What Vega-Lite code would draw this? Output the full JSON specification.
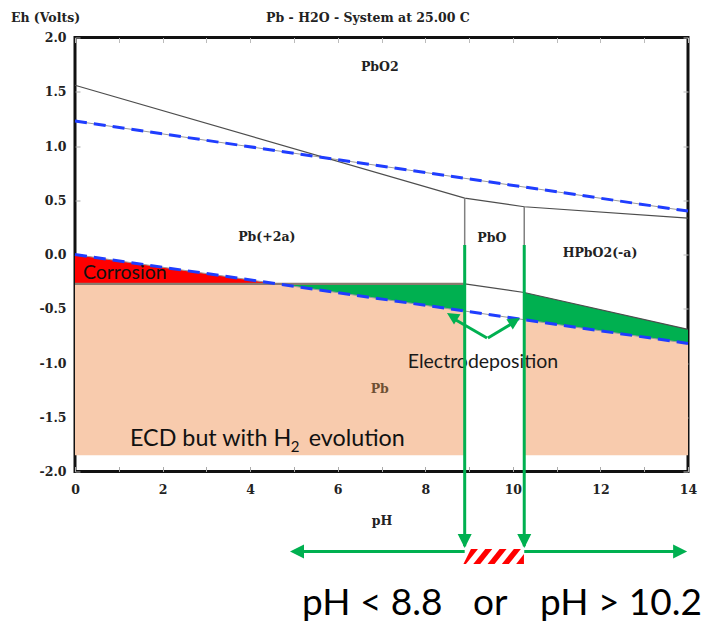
{
  "$schema": "https://vega.github.io/schema/vega-lite/v6.json",
  "width": 613,
  "height": 434,
  "autosize": "none",
  "padding": {"left": 75, "top": 37.5, "right": 24, "bottom": 155.5},
  "background": "white",
  "config": {"view": {"stroke": "#111", "strokeWidth": 3}, "axis": {"grid": false, "domain": false}},
  "datasets": {
    "regions": [
      {"reg": "pinkL", "pH": 0, "top": -0.27, "bot": -1.85},
      {"reg": "pinkL", "pH": 4.61, "top": -0.27, "bot": -1.85},
      {"reg": "pinkL", "pH": 8.9, "top": -0.522, "bot": -1.85},
      {"reg": "pinkR", "pH": 10.26, "top": -0.601, "bot": -1.85},
      {"reg": "pinkR", "pH": 14, "top": -0.82, "bot": -1.85},
      {"reg": "red", "pH": 0, "top": 0.0, "bot": -0.27},
      {"reg": "red", "pH": 4.61, "top": -0.27, "bot": -0.27},
      {"reg": "greenL", "pH": 4.61, "top": -0.27, "bot": -0.27},
      {"reg": "greenL", "pH": 8.9, "top": -0.27, "bot": -0.522},
      {"reg": "greenR", "pH": 10.26, "top": -0.35, "bot": -0.601},
      {"reg": "greenR", "pH": 14, "top": -0.69, "bot": -0.82}
    ],
    "bounds": [
      {"id": "upper", "pH": 0, "Eh": 1.56},
      {"id": "upper", "pH": 8.9, "Eh": 0.52},
      {"id": "upper", "pH": 10.26, "Eh": 0.44},
      {"id": "upper", "pH": 14, "Eh": 0.335},
      {"id": "lowerB", "pH": 8.9, "Eh": -0.27},
      {"id": "lowerB", "pH": 10.26, "Eh": -0.35},
      {"id": "lowerB", "pH": 14, "Eh": -0.69}
    ],
    "bound0": [
      {"id": "lowerA", "pH": 0, "Eh": -0.27},
      {"id": "lowerA", "pH": 8.9, "Eh": -0.27}
    ],
    "water": [
      {"id": "w1", "pH": 0, "Eh": 1.23},
      {"id": "w1", "pH": 14, "Eh": 0.40},
      {"id": "w2", "pH": 0, "Eh": 0.0},
      {"id": "w2", "pH": 14, "Eh": -0.82}
    ],
    "vlines": [
      {"pH": 8.9, "lo": -0.27, "hi": 0.52},
      {"pH": 10.26, "lo": -0.35, "hi": 0.44}
    ],
    "garrows": [
      {"pH": 8.9, "Eh": 0.087, "pH2": 8.9, "Eh2": -2.69},
      {"pH": 10.26, "Eh": 0.087, "pH2": 10.26, "Eh2": -2.69},
      {"pH": 8.9, "Eh": -2.737, "pH2": 5.05, "Eh2": -2.737},
      {"pH": 10.26, "Eh": -2.737, "pH2": 13.83, "Eh2": -2.737},
      {"pH": 9.41, "Eh": -0.77, "pH2": 8.62, "Eh2": -0.585},
      {"pH": 9.43, "Eh": -0.77, "pH2": 10.05, "Eh2": -0.62}
    ],
    "heads": [
      {"dir": "down", "pH": 8.9, "Eh": -2.705},
      {"dir": "down", "pH": 10.26, "Eh": -2.705},
      {"dir": "left", "pH": 4.91, "Eh": -2.737},
      {"dir": "right", "pH": 13.98, "Eh": -2.737},
      {"dir": "upleft", "pH": 8.495, "Eh": -0.539},
      {"dir": "upright", "pH": 10.16, "Eh": -0.585}
    ],
    "hatch": [
      {"s": 0, "Eh": -2.853, "a": 8.872, "b": 8.929},
      {"s": 0, "Eh": -2.714, "a": 9.043, "b": 9.203},
      {"s": 1, "Eh": -2.853, "a": 9.096, "b": 9.256},
      {"s": 1, "Eh": -2.714, "a": 9.370, "b": 9.530},
      {"s": 2, "Eh": -2.853, "a": 9.422, "b": 9.582},
      {"s": 2, "Eh": -2.714, "a": 9.696, "b": 9.856},
      {"s": 3, "Eh": -2.853, "a": 9.749, "b": 9.909},
      {"s": 3, "Eh": -2.714, "a": 10.023, "b": 10.183},
      {"s": 4, "Eh": -2.853, "a": 10.075, "b": 10.253},
      {"s": 4, "Eh": -2.760, "a": 10.253, "b": 10.253}
    ],
    "ttl": [{"t": "Pb - H2O - System at 25.00 C", "pH": 6.69, "Eh": 2.147}],
    "serif": [
      {"t": "PbO2", "pH": 6.96, "Eh": 1.69},
      {"t": "Pb(+2a)", "pH": 4.38, "Eh": 0.124},
      {"t": "PbO", "pH": 9.52, "Eh": 0.115},
      {"t": "HPbO2(-a)", "pH": 11.99, "Eh": -0.023}
    ],
    "pb": [{"t": "Pb", "pH": 6.96, "Eh": -1.276}],
    "corr": [{"t": "Corrosion", "pH": 0.18, "Eh": -0.226}],
    "elec": [{"t": "Electrodeposition", "pH": 7.6, "Eh": -1.046}],
    "ecd": [
      {"t": "ECD but with H", "pH": 1.256, "Eh": -1.765},
      {"t": "evolution", "pH": 5.34, "Eh": -1.765}
    ],
    "sub": [{"t": "2", "pH": 4.93, "Eh": -1.82}],
    "big": [
      {"t": "pH < 8.8", "pH": 5.184, "Eh": -3.323},
      {"t": "or", "pH": 9.089, "Eh": -3.323},
      {"t": "pH > 10.2", "pH": 10.619, "Eh": -3.323}
    ]
  },
  "resolve": {"axis": {"x": "independent", "y": "independent"}},
  "layer": [
    {
      "data": {"name": "regions"},
      "mark": {"type": "area", "opacity": 1, "interpolate": "linear"},
      "encoding": {
        "x": {"field": "pH", "type": "quantitative", "scale": {"domain": [0, 14], "nice": false, "zero": false},
          "axis": {"orient": "bottom", "values": [0,1,2,3,4,5,6,7,8,9,10,11,12,13,14], "labelExpr": "datum.value % 2 === 0 ? datum.label : ''", "tickSize": -5, "tickColor": "#aaa", "labelFont": "DejaVu Serif", "labelFontWeight": "bold", "labelFontSize": 12.5, "labelColor": "#222", "labelPadding": 16.5, "labelFlush": false, "labelOverlap": false, "title": "pH", "titleFont": "DejaVu Serif", "titleFontWeight": "bold", "titleFontSize": 12.5, "titleColor": "#222", "titlePadding": 18.5}},
        "y": {"field": "top", "type": "quantitative", "scale": {"domain": [-2, 2], "nice": false, "zero": false},
          "axis": {"orient": "left", "values": [-2,-1.5,-1,-0.5,0,0.5,1,1.5,2], "labelExpr": "replace(format(datum.value, '.1f'), '\u2212', '-')", "tickSize": -5, "tickColor": "#aaa", "labelFont": "DejaVu Serif", "labelFontWeight": "bold", "labelFontSize": 12.5, "labelColor": "#222", "labelPadding": 14, "labelFlush": false, "labelOverlap": false, "title": "Eh (Volts)", "titleAngle": 0, "titleAlign": "center", "titleBaseline": "middle", "titleX": -30, "titleY": -20, "titleFont": "DejaVu Serif", "titleFontWeight": "bold", "titleFontSize": 12.5, "titleColor": "#222"}},
        "y2": {"field": "bot"},
        "color": {"field": "reg", "type": "nominal", "scale": {"domain": ["pinkL", "pinkR", "red", "greenL", "greenR"], "range": ["#F8CBAD", "#F8CBAD", "#FF0000", "#00B050", "#00B050"]}, "legend": null},
        "detail": {"field": "reg"}
      }
    },
    {
      "data": {"name": "bounds"},
      "mark": {"type": "point", "opacity": 0},
      "encoding": {
        "x": {"field": "pH", "type": "quantitative", "axis": {"orient": "top", "values": [0,1,2,3,4,5,6,7,8,9,10,11,12,13,14], "labels": false, "tickSize": -5, "tickColor": "#bbb", "title": null}},
        "y": {"field": "Eh", "type": "quantitative", "axis": {"orient": "right", "values": [-2,-1.5,-1,-0.5,0,0.5,1,1.5,2], "labels": false, "tickSize": -5, "tickColor": "#bbb", "title": null}}
      }
    },
    {
      "data": {"name": "water"},
      "mark": {"type": "line", "stroke": "#9a9a9a", "strokeWidth": 1},
      "encoding": {
        "x": {"field": "pH", "type": "quantitative", "axis": null},
        "y": {"field": "Eh", "type": "quantitative", "axis": null},
        "detail": {"field": "id"}
      }
    },
    {
      "data": {"name": "bounds"},
      "mark": {"type": "line", "stroke": "#4d4d4d", "strokeWidth": 1.2},
      "encoding": {
        "x": {"field": "pH", "type": "quantitative", "axis": null},
        "y": {"field": "Eh", "type": "quantitative", "axis": null},
        "detail": {"field": "id"}
      }
    },
    {
      "data": {"name": "bound0"},
      "mark": {"type": "line", "stroke": "#8a7a6e", "strokeWidth": 2.2},
      "encoding": {
        "x": {"field": "pH", "type": "quantitative", "axis": null},
        "y": {"field": "Eh", "type": "quantitative", "axis": null}
      }
    },
    {
      "data": {"name": "vlines"},
      "mark": {"type": "rule", "stroke": "#808080", "strokeWidth": 1.5},
      "encoding": {
        "x": {"field": "pH", "type": "quantitative", "axis": null},
        "y": {"field": "lo", "type": "quantitative", "axis": null},
        "y2": {"field": "hi"}
      }
    },
    {
      "data": {"name": "water"},
      "mark": {"type": "line", "stroke": "#1f3dff", "strokeWidth": 3, "strokeDash": [12, 7]},
      "encoding": {
        "x": {"field": "pH", "type": "quantitative", "axis": null},
        "y": {"field": "Eh", "type": "quantitative", "axis": null},
        "detail": {"field": "id"}
      }
    },
    {
      "data": {"name": "ttl"},
      "mark": {"type": "text", "font": "DejaVu Serif", "fontWeight": "bold", "fontSize": 12.5, "color": "#222", "align": "center", "baseline": "alphabetic"},
      "encoding": {
        "x": {"field": "pH", "type": "quantitative", "axis": null},
        "y": {"field": "Eh", "type": "quantitative", "axis": null},
        "text": {"field": "t"}
      }
    },
    {
      "data": {"name": "serif"},
      "mark": {"type": "text", "font": "DejaVu Serif", "fontWeight": "bold", "fontSize": 12.5, "color": "#222", "align": "center", "baseline": "alphabetic"},
      "encoding": {
        "x": {"field": "pH", "type": "quantitative", "axis": null},
        "y": {"field": "Eh", "type": "quantitative", "axis": null},
        "text": {"field": "t"}
      }
    },
    {
      "data": {"name": "pb"},
      "mark": {"type": "text", "font": "DejaVu Serif", "fontWeight": "bold", "fontSize": 12.5, "color": "#6e5034", "align": "center", "baseline": "alphabetic"},
      "encoding": {
        "x": {"field": "pH", "type": "quantitative", "axis": null},
        "y": {"field": "Eh", "type": "quantitative", "axis": null},
        "text": {"field": "t"}
      }
    },
    {
      "data": {"name": "corr"},
      "mark": {"type": "text", "font": "Lato", "fontSize": 19.5, "color": "#111", "align": "left", "baseline": "alphabetic"},
      "encoding": {
        "x": {"field": "pH", "type": "quantitative", "axis": null},
        "y": {"field": "Eh", "type": "quantitative", "axis": null},
        "text": {"field": "t"}
      }
    },
    {
      "data": {"name": "elec"},
      "mark": {"type": "text", "font": "Lato", "fontSize": 19.5, "color": "#1a1a1a", "align": "left", "baseline": "alphabetic"},
      "encoding": {
        "x": {"field": "pH", "type": "quantitative", "axis": null},
        "y": {"field": "Eh", "type": "quantitative", "axis": null},
        "text": {"field": "t"}
      }
    },
    {
      "data": {"name": "ecd"},
      "mark": {"type": "text", "font": "Lato", "fontSize": 23.3, "color": "#111", "align": "left", "baseline": "alphabetic"},
      "encoding": {
        "x": {"field": "pH", "type": "quantitative", "axis": null},
        "y": {"field": "Eh", "type": "quantitative", "axis": null},
        "text": {"field": "t"}
      }
    },
    {
      "data": {"name": "sub"},
      "mark": {"type": "text", "font": "Lato", "fontSize": 15, "color": "#111", "align": "left", "baseline": "alphabetic"},
      "encoding": {
        "x": {"field": "pH", "type": "quantitative", "axis": null},
        "y": {"field": "Eh", "type": "quantitative", "axis": null},
        "text": {"field": "t"}
      }
    },
    {
      "data": {"name": "garrows"},
      "mark": {"type": "rule", "stroke": "#00B050", "strokeWidth": 3},
      "encoding": {
        "x": {"field": "pH", "type": "quantitative", "axis": null},
        "y": {"field": "Eh", "type": "quantitative", "axis": null},
        "x2": {"field": "pH2"},
        "y2": {"field": "Eh2"}
      }
    },
    {
      "data": {"name": "heads"},
      "transform": [{"filter": "datum.dir === 'down'"}],
      "mark": {"type": "point", "shape": "M0,0L-0.7,1.4L0.7,1.4Z", "size": 400, "filled": true, "opacity": 1, "color": "#00B050", "angle": 180},
      "encoding": {
        "x": {"field": "pH", "type": "quantitative", "axis": null},
        "y": {"field": "Eh", "type": "quantitative", "axis": null}
      }
    },
    {
      "data": {"name": "heads"},
      "transform": [{"filter": "datum.dir === 'left'"}],
      "mark": {"type": "point", "shape": "M0,0L-0.7,1.4L0.7,1.4Z", "size": 400, "filled": true, "opacity": 1, "color": "#00B050", "angle": 270},
      "encoding": {
        "x": {"field": "pH", "type": "quantitative", "axis": null},
        "y": {"field": "Eh", "type": "quantitative", "axis": null}
      }
    },
    {
      "data": {"name": "heads"},
      "transform": [{"filter": "datum.dir === 'right'"}],
      "mark": {"type": "point", "shape": "M0,0L-0.7,1.4L0.7,1.4Z", "size": 400, "filled": true, "opacity": 1, "color": "#00B050", "angle": 90},
      "encoding": {
        "x": {"field": "pH", "type": "quantitative", "axis": null},
        "y": {"field": "Eh", "type": "quantitative", "axis": null}
      }
    },
    {
      "data": {"name": "heads"},
      "transform": [{"filter": "datum.dir === 'upleft'"}],
      "mark": {"type": "point", "shape": "M0,0L-0.7,1.4L0.7,1.4Z", "size": 300, "filled": true, "opacity": 1, "color": "#00B050", "angle": 302},
      "encoding": {
        "x": {"field": "pH", "type": "quantitative", "axis": null},
        "y": {"field": "Eh", "type": "quantitative", "axis": null}
      }
    },
    {
      "data": {"name": "heads"},
      "transform": [{"filter": "datum.dir === 'upright'"}],
      "mark": {"type": "point", "shape": "M0,0L-0.7,1.4L0.7,1.4Z", "size": 300, "filled": true, "opacity": 1, "color": "#00B050", "angle": 58},
      "encoding": {
        "x": {"field": "pH", "type": "quantitative", "axis": null},
        "y": {"field": "Eh", "type": "quantitative", "axis": null}
      }
    },
    {
      "data": {"name": "hatch"},
      "mark": {"type": "area", "orient": "horizontal", "color": "#FF0000", "opacity": 1, "interpolate": "linear"},
      "encoding": {
        "y": {"field": "Eh", "type": "quantitative", "axis": null},
        "x": {"field": "a", "type": "quantitative", "axis": null},
        "x2": {"field": "b"},
        "detail": {"field": "s"}
      }
    },
    {
      "data": {"name": "big"},
      "mark": {"type": "text", "font": "Lato", "fontSize": 37, "color": "#000", "align": "left", "baseline": "alphabetic"},
      "encoding": {
        "x": {"field": "pH", "type": "quantitative", "axis": null},
        "y": {"field": "Eh", "type": "quantitative", "axis": null},
        "text": {"field": "t"}
      }
    }
  ]
}
